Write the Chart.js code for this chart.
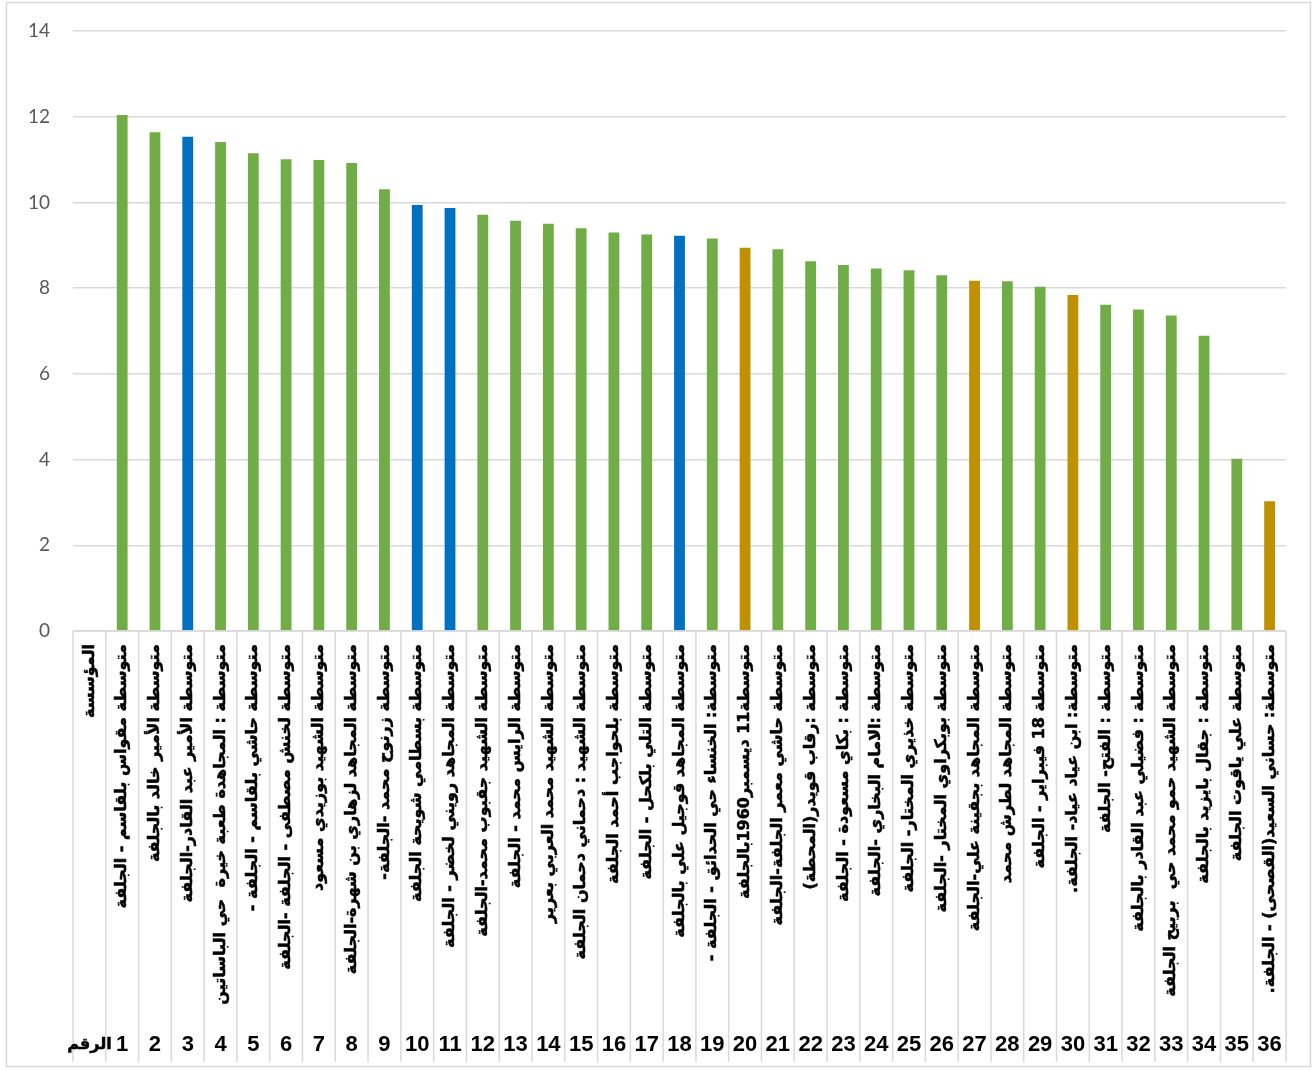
<!DOCTYPE html>
<html lang="ar">
<head>
<meta charset="utf-8">
<title>متوسطات الجلفة</title>
<script src="https://cdn.jsdelivr.net/npm/chart.js@4/dist/chart.umd.min.js"></script>
<style>
  html, body { margin: 0; padding: 0; background: #ffffff; }
  #wrap { position: relative; width: 1313px; height: 1070px; }
  canvas { display: block; }
</style>
</head>
<body>
<div id="wrap"><canvas id="chart" width="1313" height="1070"></canvas></div>
<script>
// Header cells of the two-level category axis
const headerName = 'المؤسسة';
const headerNumber = 'الرقم';

// School names (upper level of the category axis)
const schools = [
  'متوسطة مقواس بلقاسم - الجلفة',
  'متوسطة الأمير خالد بالجلفة',
  'متوسطة الأمير عبد القادر-الجلفة',
  'متوسطة : المجاهدة طعبة خيرة  حي الباساتين',
  'متوسطة حاشي بلقاسم - الجلفة -',
  'متوسطة لخنش مصطفى - الجلفة -الجلفة',
  'متوسطة الشهيد بوزيدي مسعود',
  'متوسطة المجاهد لزهاري بن شهرة-الجلفة',
  'متوسطة زرنوح محمد -الجلفة-',
  'متوسطة بسطامي شويحة الجلفة',
  'متوسطة المجاهد رويني لخضر - الجلفة',
  'متوسطة الشهيد جقبوب محمد-الجلفة',
  'متوسطة الرايس محمد - الجلفة',
  'متوسطة الشهيد محمد العربي بعرير',
  'متوسطة الشهيد : دحماني دحمان الجلفة',
  'متوسطة بلحواجب أحمد الجلفة',
  'متوسطة التلي بلكحل - الجلفة',
  'متوسطة المجاهد قوجيل علي بالجلفة',
  'متوسطة: الخنساء حي الحدائق - الجلفة -',
  'متوسطة11 ديسمبر1960بالجلفة',
  'متوسطة حاشي معمر الجلفة-الجلفة',
  'متوسطة :رقاب قويدر(المحطة)',
  'متوسطة : بكاي مسعودة - الجلفة',
  'متوسطة :الامام البخاري -الجلفة',
  'متوسطة خذيري المختار- الجلفة',
  'متوسطة بوبكراوي المختار -الجلفة',
  'متوسطة المجاهد بجقينة علي-الجلفة',
  'متوسطة المجاهد لطرش محمد',
  'متوسطة 18 فيبراير - الجلفة',
  'متوسطة: ابن عياد عياد- الجلفة.',
  'متوسطة : الفتح- الجلفة',
  'متوسطة : فضيلي عبد القادر بالجلفة',
  'متوسطة الشهيد حمو محمد حي  بربيح الجلفة',
  'متوسطة : جقال بايزيد بالجلفة',
  'متوسطة علي ياقوت الجلفة',
  'متوسطة: حساني السعيد(القصحى) - الجلفة.'
];

// Row numbers (lower level of the category axis)
const numbers = ['1','2','3','4','5','6','7','8','9','10','11','12','13','14','15','16','17','18',
                 '19','20','21','22','23','24','25','26','27','28','29','30','31','32','33','34','35','36'];

// Average per school
const values = [12.04, 11.64, 11.53, 11.41, 11.15, 11.01, 10.99, 10.92, 10.31, 9.94, 9.87, 9.71,
                9.57, 9.50, 9.40, 9.30, 9.25, 9.22, 9.16, 8.94, 8.91, 8.63, 8.54, 8.46,
                8.42, 8.30, 8.17, 8.16, 8.03, 7.84, 7.61, 7.50, 7.36, 6.89, 4.02, 3.03];

// Schools drawn in the second and third colours (by row number)
const blueRows = [3, 10, 11, 18];
const goldRows = [20, 27, 30, 36];

// Y axis ticks
const yTicks = [0, 2, 4, 6, 8, 10, 12, 14];

const GREEN = '#70ad47', BLUE = '#0070c0', GOLD = '#bf9000';
const GRID = '#d9d9d9';

const labels = [headerName, ...schools];
const numberRow = [headerNumber, ...numbers];
const data = [null, ...values];
const colors = [null, ...numbers.map(n => {
  const k = Number(n);
  if (blueRows.includes(k)) return BLUE;
  if (goldRows.includes(k)) return GOLD;
  return GREEN;
})];

// Draws the frame, the two-level category axis and its separators
const categoryAxisPlugin = {
  id: 'categoryAxis',
  beforeDraw(chart) {
    const ctx = chart.ctx;
    ctx.save();
    ctx.strokeStyle = GRID;
    ctx.lineWidth = 1.5;
    ctx.strokeRect(6.5, 2.5, 1304, 1064);
    ctx.restore();
  },
  afterDraw(chart) {
    const ctx = chart.ctx;
    const xs = chart.scales.x;
    const area = chart.chartArea;
    const half = (xs.getPixelForValue(1) - xs.getPixelForValue(0)) / 2;
    const axisBottom = 1062;
    ctx.save();
    // separators between categories
    ctx.strokeStyle = GRID;
    ctx.lineWidth = 1.5;
    ctx.beginPath();
    for (let i = 0; i <= labels.length; i++) {
      const x = (i < labels.length ? xs.getPixelForValue(i) - half : xs.getPixelForValue(i - 1) + half);
      ctx.moveTo(x, area.bottom);
      ctx.lineTo(x, axisBottom);
    }
    ctx.moveTo(area.left, area.bottom);
    ctx.lineTo(area.right, area.bottom);
    ctx.stroke();

    // school names, rotated
    ctx.fillStyle = '#000000';
    ctx.strokeStyle = '#000000';
    ctx.lineWidth = 0.5;
    ctx.direction = 'rtl';
    ctx.font = 'bold 16px "DejaVu Sans", sans-serif';
    ctx.textAlign = 'right';
    ctx.textBaseline = 'middle';
    labels.forEach((name, i) => {
      const xc = xs.getPixelForValue(i);
      ctx.save();
      ctx.translate(xc, area.bottom + 13);
      ctx.rotate(-Math.PI / 2);
      ctx.fillText(name, 0, 0);
      ctx.strokeText(name, 0, 0);
      ctx.restore();
    });

    // row numbers
    ctx.direction = 'ltr';
    ctx.textAlign = 'center';
    numberRow.forEach((num, i) => {
      const xc = xs.getPixelForValue(i);
      if (i === 0) {
        ctx.font = 'bold 16px "DejaVu Sans", sans-serif';
        ctx.fillText(num, xc, 1045);
        ctx.strokeText(num, xc, 1045);
      } else {
        ctx.font = 'bold 22px "Liberation Sans", Arial, sans-serif';
        ctx.fillText(num, xc, 1045);
      }
    });
    ctx.restore();
  }
};

new Chart(document.getElementById('chart'), {
  type: 'bar',
  data: {
    labels: labels,
    datasets: [{
      data: data,
      backgroundColor: colors,
      borderWidth: 0,
      barPercentage: 0.33,
      categoryPercentage: 1.0
    }]
  },
  options: {
    responsive: false,
    animation: false,
    events: [],
    layout: { padding: { left: 0, right: 27, top: 31, bottom: 439 } },
    plugins: {
      legend: { display: false },
      tooltip: { enabled: false },
      title: { display: false }
    },
    scales: {
      x: {
        type: 'category',
        display: false,
        offset: true
      },
      y: {
        min: 0,
        max: 14,
        afterFit(scale) {
          scale.width = 73;
          scale.paddingTop = 0;
          scale.paddingBottom = 0;
        },
        afterBuildTicks(scale) { scale.ticks = yTicks.map(v => ({ value: v })); },
        border: { display: false },
        grid: { color: GRID, lineWidth: 1.5, drawTicks: false },
        ticks: {
          padding: 23,
          color: '#595959',
          font: { family: 'Lato, "Open Sans", sans-serif', size: 19 }
        }
      }
    }
  },
  plugins: [categoryAxisPlugin]
});
</script>
</body>
</html>
